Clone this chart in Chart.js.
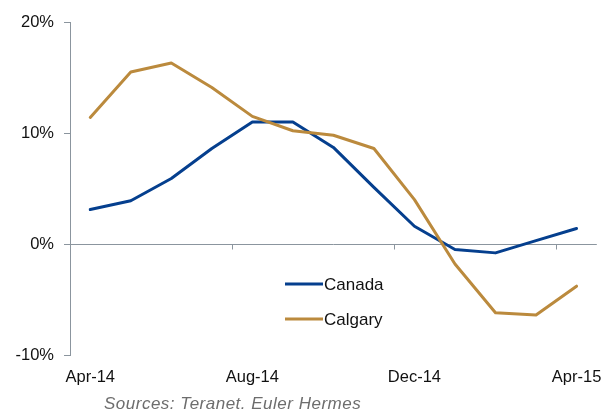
<!DOCTYPE html>
<html>
<head>
<meta charset="utf-8">
<script src="https://cdn.jsdelivr.net/npm/chart.js@4.4.1/dist/chart.umd.min.js"></script>
<style>
  html, body { margin: 0; padding: 0; background: #fff; overflow: hidden; }
  #wrap { position: relative; width: 615px; height: 412px; }
  #chart { display: block; }
  #source {
    position: absolute; left: 104px; top: 394px;
    font: italic 17px "Liberation Sans", Arial, sans-serif; color: #6d6d6d;
    letter-spacing: 0.5px; white-space: nowrap;
  }
</style>
</head>
<body>
<div id="wrap">
  <canvas id="chart" width="615" height="412"></canvas>
  <div id="source">Sources: Teranet. Euler Hermes</div>
</div>
<script>
// --- data ---
const months = ["Apr-14", "May-14", "Jun-14", "Jul-14", "Aug-14", "Sep-14", "Oct-14",
                "Nov-14", "Dec-14", "Jan-15", "Feb-15", "Mar-15", "Apr-15"];
const canada  = [3.1, 3.9, 5.9, 8.6, 11.0, 11.0, 8.7, 5.1, 1.6, -0.5, -0.8, 0.3, 1.4];
const calgary = [11.4, 15.5, 16.3, 14.1, 11.5, 10.2, 9.8, 8.6, 4.0, -1.8, -6.2, -6.4, -3.8];
const yTicks = [-10, 0, 10, 20];

const FONT = "'Liberation Sans', Arial, sans-serif";
const axisColor = "#8b959e";

// zero line with tick marks every 4 months (between categories)
const zeroAxis = {
  id: "zeroAxis",
  beforeDatasetsDraw(chart) {
    const { ctx, scales: { x, y } } = chart;
    const y0 = Math.round(y.getPixelForValue(0)) + 0.5;
    const step = x.getPixelForValue(1) - x.getPixelForValue(0);
    ctx.save();
    ctx.strokeStyle = axisColor;
    ctx.lineWidth = 1;
    ctx.beginPath();
    ctx.moveTo(x.left, y0);
    ctx.lineTo(x.right, y0);
    for (let i = 0; i < months.length; i += 4) {
      const px = Math.round(x.getPixelForValue(i) - step / 2) + 0.5;
      ctx.moveTo(px, y0);
      ctx.lineTo(px, y0 + 5);
    }
    ctx.stroke();
    ctx.restore();
  },
};

// legend drawn inside the plot area
const innerLegend = {
  id: "innerLegend",
  afterDraw(chart) {
    const { ctx } = chart;
    const x0 = 285, lineW = 38, rows = [284, 319];
    ctx.save();
    ctx.font = "17px " + FONT;
    ctx.textBaseline = "middle";
    chart.data.datasets.forEach((ds, i) => {
      const yy = rows[i];
      ctx.strokeStyle = ds.borderColor;
      ctx.lineWidth = 3;
      ctx.beginPath();
      ctx.moveTo(x0, yy);
      ctx.lineTo(x0 + lineW, yy);
      ctx.stroke();
      ctx.fillStyle = "#111";
      ctx.fillText(ds.label, x0 + lineW + 1, yy + 1);
    });
    ctx.restore();
  },
};

new Chart(document.getElementById("chart"), {
  type: "line",
  data: {
    labels: months,
    datasets: [
      { label: "Canada", data: canada, borderColor: "#053f8e", order: 1 },
      { label: "Calgary", data: calgary, borderColor: "#bb8a3d", order: 0 },
    ],
  },
  options: {
    responsive: false,
    animation: false,
    layout: { padding: { left: 0, right: 18, top: 22, bottom: 22 } },
    elements: {
      line: { borderWidth: 3, tension: 0, borderCapStyle: "round", borderJoinStyle: "round" },
      point: { radius: 0 },
    },
    plugins: { legend: { display: false }, tooltip: { enabled: false } },
    scales: {
      x: {
        offset: true,
        grid: { display: false, drawTicks: false },
        border: { display: false },
        afterFit: (s) => { s.height = 35; },
        ticks: {
          autoSkip: false,
          maxRotation: 0,
          padding: 13,
          color: "#111",
          font: { family: FONT, size: 16.5 },
          callback: (v, i) => (i % 4 === 0 ? months[i] : ""),
        },
      },
      y: {
        min: -10,
        max: 20,
        afterFit: (s) => { s.width = 70; },
        afterBuildTicks: (s) => { s.ticks = yTicks.map((v) => ({ value: v })); },
        grid: { drawOnChartArea: false, drawTicks: true, tickLength: 6, color: axisColor },
        border: { display: true, color: axisColor, width: 1 },
        ticks: {
          padding: 10,
          color: "#111",
          font: { family: FONT, size: 16.5 },
          callback: (v) => v + "%",
        },
      },
    },
  },
  plugins: [zeroAxis, innerLegend],
});
</script>
</body>
</html>
